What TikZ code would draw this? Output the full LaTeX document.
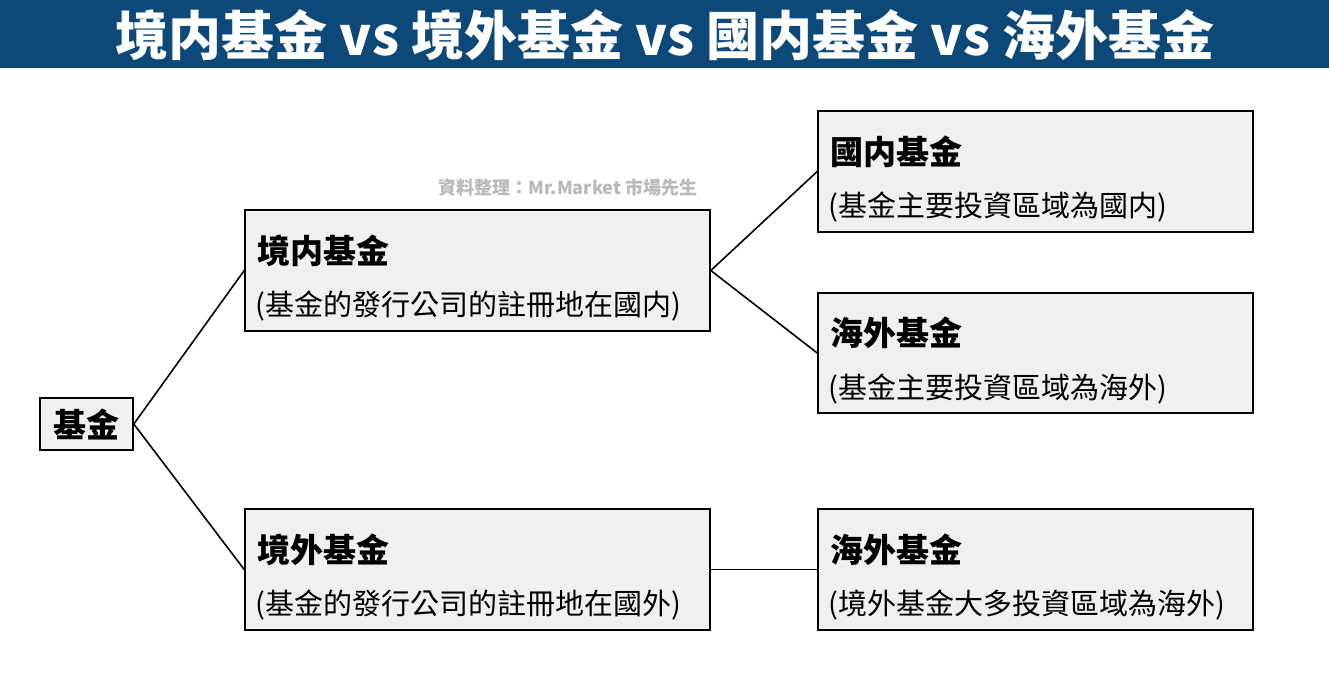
\documentclass[tikz,border=0pt]{standalone}
\usepackage{fontspec}
\setmainfont{Noto Sans CJK TC}
\begin{document}
\begin{tikzpicture}[x=1pt,y=-1pt,
 box/.style={draw=black,line width=1.6pt,fill=gray!12,inner sep=0pt},
 hd/.style={anchor=west,font=\fontsize{33}{36}\selectfont\bfseries},
 sub/.style={anchor=west,font=\fontsize{29}{32}\selectfont},
 conn/.style={line width=1.6pt}]
\useasboundingbox (0,0) rectangle (1329,680);
\fill[white] (0,0) rectangle (1329,680);
\fill[fill={rgb,255:red,12;green,72;blue,120}] (0,0) rectangle (1329,68);
\node[text=white,font=\fontsize{53}{58}\selectfont\bfseries] (title) at (665,35) {境内基金 vs 境外基金 vs 國内基金 vs 海外基金};
\node[text=gray!55,font=\fontsize{18}{20}\selectfont\bfseries] (wm) at (568,188) {資料整理：Mr.Market 市場先生};
\node[box,minimum width=93,minimum height=52,font=\fontsize{33}{36}\selectfont\bfseries] (root) at (86.5,424) {基金};
\node[box,minimum width=465,minimum height=121] (a) at (477.5,270.5) {};
\node[hd] at ([xshift=10,yshift=20]a.west) {境内基金};
\node[sub] at ([xshift=8,yshift=-36]a.west) {(基金的發行公司的註冊地在國内)};
\node[box,minimum width=465,minimum height=121] (b) at (477.5,569.5) {};
\node[hd] at ([xshift=10,yshift=20]b.west) {境外基金};
\node[sub] at ([xshift=8,yshift=-36]b.west) {(基金的發行公司的註冊地在國外)};
\node[box,minimum width=435,minimum height=121] (c) at (1035.5,171.5) {};
\node[hd] at ([xshift=10,yshift=20]c.west) {國内基金};
\node[sub] at ([xshift=8,yshift=-36]c.west) {(基金主要投資區域為國内)};
\node[box,minimum width=435,minimum height=120] (d) at (1035.5,353) {};
\node[hd] at ([xshift=10,yshift=20]d.west) {海外基金};
\node[sub] at ([xshift=8,yshift=-36]d.west) {(基金主要投資區域為海外)};
\node[box,minimum width=435,minimum height=121] (e) at (1035.5,569.5) {};
\node[hd] at ([xshift=10,yshift=20]e.west) {海外基金};
\node[sub] at ([xshift=8,yshift=-36]e.west) {(境外基金大多投資區域為海外)};
\draw[conn] (root.east) -- (a.west);
\draw[conn] (root.east) -- (b.west);
\draw[conn] (a.east) -- (c.west);
\draw[conn] (a.east) -- (d.west);
\draw[conn] (b.east) -- (e.west);
\end{tikzpicture}
\end{document}
